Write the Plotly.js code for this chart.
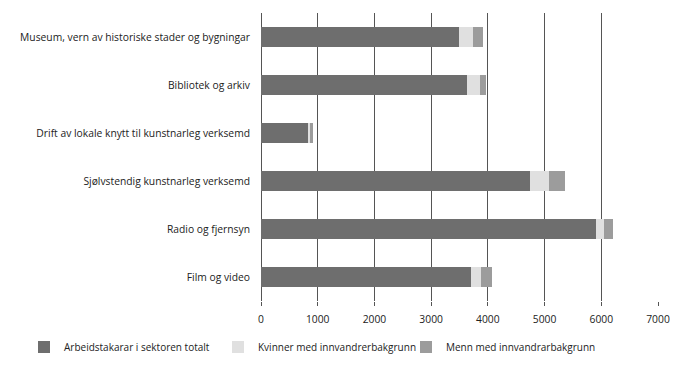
<!DOCTYPE html>
<html><head><meta charset="utf-8">
<script src="https://cdn.plot.ly/plotly-3.0.1.min.js"></script>
<style>html,body{margin:0;padding:0;background:#fff}#chart{width:695px;height:370px}</style>
</head><body><div id="chart"></div>
<script>
const categories = [
  "Museum, vern av historiske stader og bygningar",
  "Bibliotek og arkiv",
  "Drift av lokale knytt til kunstnarleg verksemd",
  "Sjølvstendig kunstnarleg verksemd",
  "Radio og fjernsyn",
  "Film og video"
];
const totalt = [3490, 3630, 820, 4750, 5905, 3700];
const kvinner = [245, 230, 47, 323, 135, 176];
const menn = [177, 106, 48, 295, 159, 189];
const seriesNames = ["Arbeidstakarar i sektoren totalt", "Kvinner med innvandrerbakgrunn", "Menn med innvandrarbakgrunn"];
const colors = ["#6e6e6e", "#e0e0e0", "#9c9c9c"];
const vals = [totalt, kvinner, menn];
const font = "Open Sans, sans-serif";
const legendIds = ["legend", "legend2", "legend3"];
const legendX = [24, 218, 406];
const traces = vals.map((v, i) => ({
  type: "bar", orientation: "h", y: categories, x: v, name: seriesNames[i],
  legend: legendIds[i],
  marker: {color: colors[i], line: {width: 0}}
}));
const layout = {
  width: 695, height: 370, barmode: "stack", bargap: 0.6,
  margin: {l: 261, r: 37, t: 13, b: 69},
  paper_bgcolor: "#fff", plot_bgcolor: "#fff",
  font: {family: font, size: 10.3, color: "#222"},
  showlegend: true,
  xaxis: {range: [0, 7000], dtick: 1000, showgrid: true, gridcolor: "#555", gridwidth: 1,
    zeroline: true, zerolinecolor: "#555", zerolinewidth: 1,
    ticks: "outside", ticklen: 4, tickcolor: "#555", showline: false, tickfont: {size: 10.3},
    ticklabelstandoff: 5},
  yaxis: {autorange: "reversed", showgrid: false, zeroline: false, ticks: "", ticklabelstandoff: 10,
    tickfont: {size: 10.3}}
};
legendIds.forEach((id, i) => {
  layout[id] = {orientation: "h", xref: "container", yref: "container",
    x: legendX[i] / 695, xanchor: "left", y: 1 - 347 / 370, yanchor: "middle",
    font: {family: font, size: 10, color: "#222"}, itemwidth: 30, bgcolor: "rgba(0,0,0,0)"};
});
Plotly.newPlot("chart", traces, layout, {displayModeBar: false, staticPlot: true});
</script></body></html>
